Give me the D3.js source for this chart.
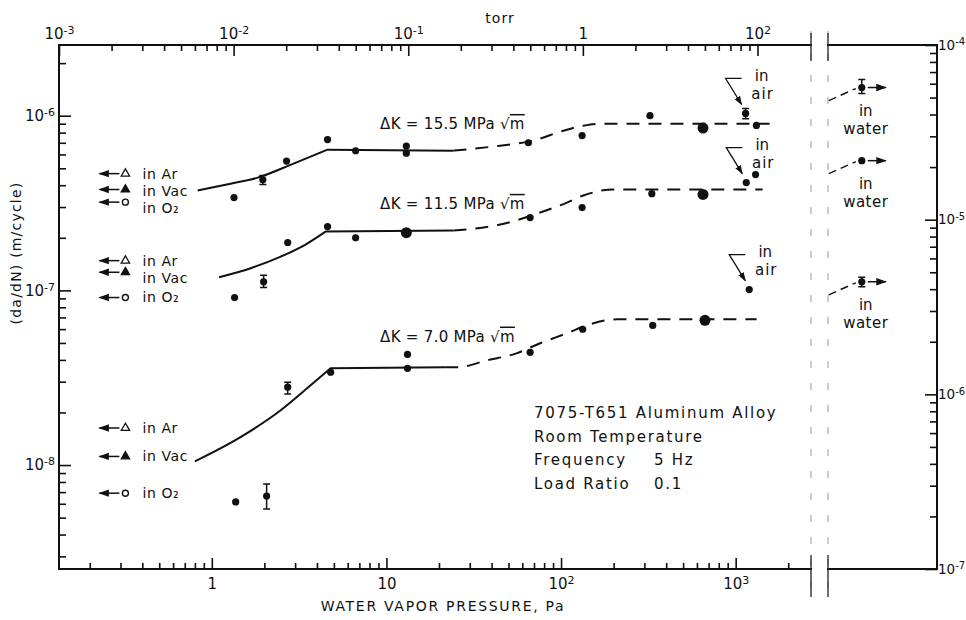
<!DOCTYPE html>
<html>
<head>
<meta charset="utf-8">
<title>da/dN vs water vapor pressure</title>
<script src="https://cdn.jsdelivr.net/npm/d3@7/dist/d3.min.js"></script>
<style>
  body { margin: 0; background: #fff; }
  .chart text { font-family: "DejaVu Sans", "Liberation Sans", sans-serif; fill: #111; }
</style>
</head>
<body>
<div class="chart"></div>
<script>
// axis ticks
let paTicks = [1, 10, 100, 1000];
let paTickLabels = ['1', '10', '10²', '10³'];
let torrTicks = [1e-3, 1e-2, 1e-1, 1, 10];
let torrTickLabels = ['10⁻³', '10⁻²', '10⁻¹', '1', '10²'];
let rateTicks = [1e-6, 1e-7, 1e-8];
let rateTickLabels = ['10⁻⁶', '10⁻⁷', '10⁻⁸'];
let inchTicks = [1e-4, 1e-5, 1e-6, 1e-7];
let inchTickLabels = ['10⁻⁴', '10⁻⁵', '10⁻⁶', '10⁻⁷'];

// stress intensity ranges, one per curve (top to bottom)
let deltaK = ['15.5', '11.5', '7.0'];

// measured points: p = water vapor pressure (Pa), v = da/dN (m/cycle)
// lo/hi = scatter band, n = coincident tests
let points155 = [
  { p: 1.34, v: 3.4e-7 }, { p: 1.96, v: 4.3e-7, lo: 4.04e-7, hi: 4.54e-7 }, { p: 2.68, v: 5.5e-7 },
  { p: 4.6, v: 7.3e-7 }, { p: 6.66, v: 6.3e-7 }, { p: 13.0, v: 6.7e-7 }, { p: 13.0, v: 6.1e-7 },
  { p: 65, v: 7.0e-7 }, { p: 132, v: 7.7e-7 }, { p: 323, v: 1.0e-6 }, { p: 650, v: 8.5e-7, n: 2 },
  { p: 1314, v: 8.8e-7 }
];
let points115 = [
  { p: 1.35, v: 9.1e-8 }, { p: 1.98, v: 1.12e-7, lo: 1.04e-7, hi: 1.22e-7 }, { p: 2.72, v: 1.88e-7 },
  { p: 4.6, v: 2.32e-7 }, { p: 6.66, v: 2.0e-7 }, { p: 13.0, v: 2.14e-7, n: 2 }, { p: 66.5, v: 2.61e-7 },
  { p: 132, v: 2.98e-7 }, { p: 331, v: 3.58e-7 }, { p: 650, v: 3.54e-7, n: 2 }, { p: 1300, v: 4.6e-7 }
];
let points70 = [
  { p: 1.37, v: 6.15e-9 }, { p: 2.06, v: 6.65e-9, lo: 5.6e-9, hi: 7.8e-9 },
  { p: 2.72, v: 2.79e-8, lo: 2.55e-8, hi: 2.98e-8 }, { p: 4.79, v: 3.4e-8 }, { p: 13.2, v: 3.58e-8 },
  { p: 13.2, v: 4.3e-8 }, { p: 66.5, v: 4.42e-8 }, { p: 133, v: 5.99e-8 }, { p: 335, v: 6.3e-8 },
  { p: 667, v: 6.74e-8, n: 2 }
];
let airPoints = [
  { p: 1140, v: 1.03e-6, lo: 9.6e-7, hi: 1.1e-6 }, { p: 1150, v: 4.14e-7 }, { p: 1196, v: 1.01e-7 }
];
let waterPoints = [
  { v: 1.45e-6, lo: 1.34e-6, hi: 1.61e-6 }, { v: 5.53e-7 }, { v: 1.12e-7, lo: 1.05e-7, hi: 1.19e-7 }
];

// rates in other environments (shown at the left edge)
let envNames = ['in Ar', 'in Vac', 'in O₂'];
let envRates155 = [4.66e-7, 3.78e-7, 3.2e-7];
let envRates115 = [1.48e-7, 1.27e-7, 9.1e-8];
let envRates70 = [1.63e-8, 1.12e-8, 6.9e-9];

// fitted curves [Pa, m/cycle]; solid = rising part then plateau, dashed = transition to air level
let fit155Solid = [[0.83, 3.73e-7], [1.28, 4.08e-7], [1.83, 4.42e-7], [2.94, 5.32e-7], [4.6, 6.39e-7], [24.2, 6.31e-7]];
let fit155Dashed = [[24.2, 6.31e-7], [44.8, 6.74e-7], [69, 7.2e-7], [103, 8.2e-7], [134, 8.77e-7], [167, 9.0e-7], [1565, 9.0e-7]];
let fit115Solid = [[1.1, 1.19e-7], [1.67, 1.34e-7], [2.48, 1.56e-7], [3.44, 1.83e-7], [4.48, 2.17e-7], [24.2, 2.2e-7]];
let fit115Dashed = [[24.2, 2.2e-7], [44.8, 2.38e-7], [75.9, 2.79e-7], [108, 3.18e-7], [134, 3.49e-7], [198, 3.78e-7], [1426, 3.78e-7]];
let fit70Solid = [[0.8, 1.05e-8], [1.46, 1.445e-8], [2.48, 2.06e-8], [3.68, 2.86e-8], [4.79, 3.58e-8], [21.7, 3.63e-8]];
let fit70Dashed = [[21.7, 3.63e-8], [25.5, 3.63e-8], [37.8, 3.98e-8], [56, 4.37e-8], [75.9, 4.98e-8], [108, 5.68e-8], [146, 6.39e-8], [209, 6.83e-8], [1318, 6.83e-8]];

// label anchors for the delta K captions
let labelPa = 9.2;
let labelRates = [9.0e-7, 3.14e-7, 5.46e-8];

let notes = [['7075-T651 Aluminum Alloy'], ['Room Temperature'], ['Frequency', '5 Hz'], ['Load Ratio', '0.1']];

const W = 966, H = 620;
const plotLeft = 59, plotTop = 45, plotBottom = 569, breakL = 811, breakR = 828, plotRight = 937;
const TORR = 133.322;

let x = d3.scaleLog().domain([1e-3 * TORR, 2700]).range([plotLeft, breakL]);
let xTorr = d3.scaleLog().domain(x.domain().map(d => d / TORR)).range(x.range());
let y = d3.scaleLog().domain([2.54e-9, 2.54e-6]).range([plotBottom, plotTop]);
let yInch = d3.scaleLog().domain([1e-7, 1e-4]).range([plotBottom, plotTop]);
let waterX = d3.scaleLinear().domain([0, 1]).range([breakR, plotRight]);
const waterPos = 0.31;

function minorTicks(lo, hi) {
  let out = [];
  for (let e = Math.floor(Math.log10(lo)); e <= Math.ceil(Math.log10(hi)); e++) {
    for (let m = 2; m < 10; m++) {
      let v = m * Math.pow(10, e);
      if (v > lo && v < hi) out.push(v);
    }
  }
  return out;
}

function labelFor(ticks, labels) {
  return function (v) {
    let i = ticks.findIndex(t => Math.abs(Math.log10(t) - Math.log10(v)) < 1e-6);
    return i < 0 ? '' : labels[i];
  };
}

// turn unicode superscripts into a raised tspan
const supMap = { '⁻': '-', '¹': '1', '²': '2', '³': '3', '⁴': '4', '⁵': '5', '⁶': '6', '⁷': '7', '⁸': '8' };
function raiseExponent(sel, supSize) {
  sel.each(function () {
    let t = d3.select(this);
    let s = t.text();
    let base = '', sup = '';
    for (let ch of s) {
      if (supMap[ch]) sup += supMap[ch]; else base += ch;
    }
    if (!sup) return;
    t.text(null);
    t.append('tspan').text(base);
    t.append('tspan').attr('font-size', supSize).attr('dy', '-0.45em').text(sup);
  });
}

let svg = d3.select('.chart').append('svg').attr('width', W).attr('height', H);

function styleAxis(g, fontSize, supSize) {
  g.selectAll('.domain').remove();
  g.selectAll('g').attr('font-family', null).attr('font-size', null);
  g.selectAll('.tick line').attr('stroke', '#111').attr('stroke-width', 1.6);
  g.selectAll('.tick text').attr('font-size', fontSize).attr('fill', '#111').call(raiseExponent, supSize);
}

// bottom axis (Pa)
let gBottom = svg.append('g').attr('transform', `translate(0,${plotBottom})`);
gBottom.append('g').call(d3.axisBottom(x).tickValues(minorTicks(x.domain()[0], x.domain()[1])).tickSize(-6).tickFormat(''));
gBottom.append('g').call(d3.axisBottom(x).tickValues(paTicks).tickSize(-11).tickPadding(9).tickFormat(labelFor(paTicks, paTickLabels)));
styleAxis(gBottom, 15, 11);

// top axis (torr)
let torrHi = xTorr.domain()[1] * 0.95;
let gTop = svg.append('g').attr('transform', `translate(0,${plotTop})`);
gTop.append('g').call(d3.axisTop(xTorr).tickValues(minorTicks(xTorr.domain()[0], torrHi)).tickSize(-6).tickFormat(''));
gTop.append('g').call(d3.axisTop(xTorr).tickValues(torrTicks).tickSize(-11).tickPadding(6).tickFormat(labelFor(torrTicks, torrTickLabels)));
styleAxis(gTop, 15, 11);

// left axis (m/cycle)
let gLeft = svg.append('g').attr('transform', `translate(${plotLeft},0)`);
gLeft.append('g').call(d3.axisLeft(y).tickValues(minorTicks(y.domain()[0], y.domain()[1])).tickSize(-7).tickFormat(''));
gLeft.append('g').call(d3.axisLeft(y).tickValues(rateTicks).tickSize(-12).tickPadding(4).tickFormat(labelFor(rateTicks, rateTickLabels)));
styleAxis(gLeft, 15, 11);

// right axis (in/cycle)
let gRight = svg.append('g').attr('transform', `translate(${plotRight},0)`);
gRight.append('g').call(d3.axisRight(yInch).tickValues(minorTicks(yInch.domain()[0], yInch.domain()[1])).tickSize(-7).tickFormat(''));
gRight.append('g').call(d3.axisRight(yInch).tickValues(inchTicks).tickSize(-12).tickPadding(1).tickFormat(labelFor(inchTicks, inchTickLabels)));
styleAxis(gRight, 13.5, 10);

// frame with the break
let frame = [
  [plotLeft, plotTop, breakL, plotTop], [breakR, plotTop, plotRight, plotTop],
  [plotLeft, plotBottom, breakL, plotBottom], [breakR, plotBottom, plotRight, plotBottom],
  [plotLeft, plotTop, plotLeft, plotBottom], [plotRight, plotTop, plotRight, plotBottom]
];
svg.append('g').selectAll('line').data(frame).join('line')
  .attr('x1', d => d[0]).attr('y1', d => d[1]).attr('x2', d => d[2]).attr('y2', d => d[3])
  .attr('stroke', '#111').attr('stroke-width', 2).attr('stroke-linecap', 'square');

svg.append('g').selectAll('line').data([breakL, breakR]).join('line')
  .attr('x1', d => d).attr('x2', d => d).attr('y1', plotTop - 14).attr('y2', plotBottom + 30)
  .attr('stroke', '#999').attr('stroke-width', 1).attr('stroke-dasharray', '7,15');
svg.append('g').selectAll('line').data([breakL, breakR]).join('line')
  .attr('x1', d => d).attr('x2', d => d).attr('y1', plotTop - 12).attr('y2', plotTop + 16)
  .attr('stroke', '#222').attr('stroke-width', 1.3);
svg.append('g').selectAll('line').data([breakL, breakR]).join('line')
  .attr('x1', d => d).attr('x2', d => d).attr('y1', plotBottom - 14).attr('y2', plotBottom + 28)
  .attr('stroke', '#222').attr('stroke-width', 1.3);

// axis titles
svg.append('text').attr('x', 500).attr('y', 23).attr('text-anchor', 'middle')
  .attr('font-size', 14).attr('letter-spacing', 1).text('torr');
svg.append('text').attr('x', 443).attr('y', 611).attr('text-anchor', 'middle')
  .attr('font-size', 14).attr('letter-spacing', 1.7).text('WATER VAPOR PRESSURE, Pa');
svg.append('text').attr('transform', 'translate(21,253) rotate(-90)')
  .attr('text-anchor', 'middle').attr('font-size', 14).attr('letter-spacing', 1.2).text('(da/dN) (m/cycle)');

// fitted curves: smooth rise, sharp corner into the plateau
let riseLine = d3.line().x(d => x(d[0])).y(d => y(d[1])).curve(d3.curveMonotoneX);
let solidPath = pts => riseLine(pts.slice(0, -1)) + `L${x(pts[pts.length - 1][0])},${y(pts[pts.length - 1][1])}`;
let dashedLine = d3.line().x(d => x(d[0])).y(d => y(d[1])).curve(d3.curveMonotoneX);
let solids = [fit155Solid, fit115Solid, fit70Solid];
let dasheds = [fit155Dashed, fit115Dashed, fit70Dashed];
svg.append('g').selectAll('path').data(solids).join('path')
  .attr('d', solidPath).attr('fill', 'none').attr('stroke', '#111').attr('stroke-width', 2);
svg.append('g').selectAll('path').data(dasheds).join('path')
  .attr('d', dashedLine).attr('fill', 'none').attr('stroke', '#111').attr('stroke-width', 2)
  .attr('stroke-dasharray', '13,9');

// points
function drawPoints(pts, px) {
  let g = svg.append('g');
  g.selectAll('path').data(pts.filter(d => d.lo)).join('path')
    .attr('d', d => `M${px(d) - 3.5},${y(d.hi)}h7M${px(d)},${y(d.hi)}V${y(d.lo)}M${px(d) - 3.5},${y(d.lo)}h7`)
    .attr('stroke', '#111').attr('stroke-width', 1.5).attr('fill', 'none');
  g.selectAll('circle').data(pts).join('circle')
    .attr('cx', px).attr('cy', d => y(d.v)).attr('r', d => d.n ? 5.5 : 3.6).attr('fill', '#111');
}
[points155, points115, points70, airPoints].forEach(pts => drawPoints(pts, d => x(d.p)));
drawPoints(waterPoints, () => waterX(waterPos));

// arrowhead
svg.append('defs').append('marker').attr('id', 'arrow').attr('viewBox', '0 0 10 10')
  .attr('refX', 9).attr('refY', 5).attr('markerWidth', 7).attr('markerHeight', 7).attr('orient', 'auto')
  .append('path').attr('d', 'M0,1.5L10,5L0,8.5Z').attr('fill', '#111');

// other environments at left
let envGroups = [envRates155, envRates115, envRates70];
let envX = x(0.32);
envGroups.forEach(rates => {
  let g = svg.append('g');
  let lastTextY = -Infinity;
  rates.forEach((r, i) => {
    let cy = y(r);
    g.append('line').attr('x1', envX - 6).attr('x2', envX - 26).attr('y1', cy).attr('y2', cy)
      .attr('stroke', '#111').attr('stroke-width', 1.5).attr('marker-end', 'url(#arrow)');
    if (i === 2) {
      g.append('circle').attr('cx', envX).attr('cy', cy).attr('r', 3).attr('fill', '#fff')
        .attr('stroke', '#111').attr('stroke-width', 1.4);
    } else {
      g.append('path').attr('d', d3.symbol(d3.symbolTriangle, 30)())
        .attr('transform', `translate(${envX},${cy})`)
        .attr('fill', i === 1 ? '#111' : '#fff').attr('stroke', '#111').attr('stroke-width', 1.3);
    }
    let ty = Math.max(cy, lastTextY + 17);
    lastTextY = ty;
    g.append('text').attr('x', envX + 17).attr('y', ty).attr('dy', '0.35em')
      .attr('font-size', 14).attr('letter-spacing', 0.6).text(envNames[i]);
  });
});

// delta K captions
labelRates.forEach((r, i) => {
  let t = svg.append('text').attr('x', x(labelPa)).attr('y', y(r)).attr('dy', '0.35em')
    .attr('font-size', 15).attr('letter-spacing', 0.3);
  t.append('tspan').text(`ΔK = ${deltaK[i]} MPa `);
  t.append('tspan').text('√');
  t.append('tspan').attr('text-decoration', 'overline').text('m');
});

// "in air" annotations
airPoints.forEach(d => {
  let px = x(d.p), py = y(d.v);
  let g = svg.append('g');
  g.append('path').attr('d', `M${px - 4},${py - 35}H${px - 20}L${px - 4},${py - 9}`)
    .attr('fill', 'none').attr('stroke', '#111').attr('stroke-width', 1.3).attr('marker-end', 'url(#arrow)');
  g.append('text').attr('x', px + 16).attr('y', py - 38).attr('dy', '0.35em').attr('text-anchor', 'middle')
    .attr('font-size', 15).text('in');
  g.append('text').attr('x', px + 17).attr('y', py - 20).attr('dy', '0.35em').attr('text-anchor', 'middle')
    .attr('font-size', 15).attr('letter-spacing', 1).text('air');
});

// "in water" annotations
waterPoints.forEach(d => {
  let px = waterX(waterPos), py = y(d.v);
  let g = svg.append('g');
  g.append('line').attr('x1', px - 33).attr('y1', py + 13).attr('x2', px - 6).attr('y2', py + 1)
    .attr('stroke', '#111').attr('stroke-width', 1.4).attr('stroke-dasharray', '8,5');
  g.append('line').attr('x1', px + 6).attr('y1', py).attr('x2', px + 24).attr('y2', py)
    .attr('stroke', '#111').attr('stroke-width', 1.5).attr('marker-end', 'url(#arrow)');
  g.append('text').attr('x', px + 4).attr('y', py + 23).attr('dy', '0.35em').attr('text-anchor', 'middle')
    .attr('font-size', 15).text('in');
  g.append('text').attr('x', px + 4).attr('y', py + 41).attr('dy', '0.35em').attr('text-anchor', 'middle')
    .attr('font-size', 15).attr('letter-spacing', 0.5).text('water');
});

// material / test notes
let notesX = x(70), notesY = 413;
notes.forEach((n, i) => {
  svg.append('text').attr('x', notesX).attr('y', notesY + i * 23.5).attr('dy', '0.35em')
    .attr('font-size', 15).attr('letter-spacing', 1.7).text(n[0]);
  if (n[1]) {
    svg.append('text').attr('x', notesX + 120).attr('y', notesY + i * 23.5).attr('dy', '0.35em')
      .attr('font-size', 15).attr('letter-spacing', 1.7).text(n[1]);
  }
});
</script>
</body>
</html>
